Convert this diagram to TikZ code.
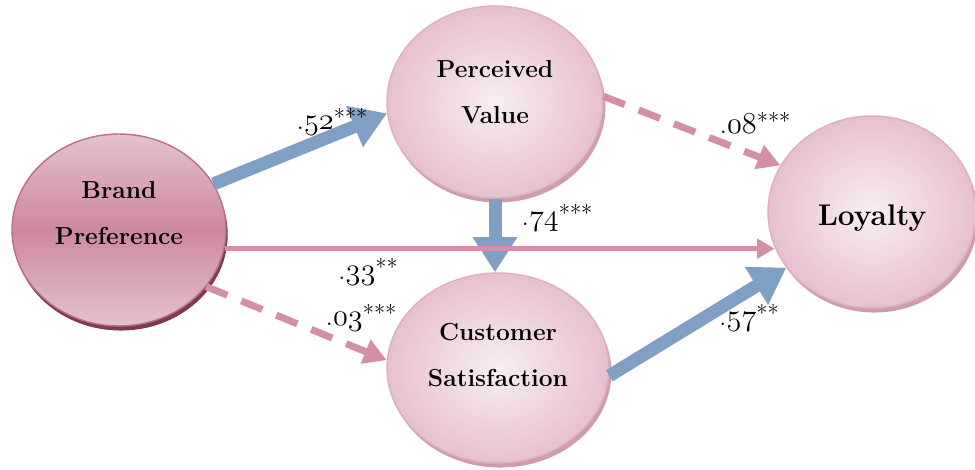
\documentclass[tikz,border=0pt]{standalone}
\usepackage{fontspec}
\usetikzlibrary{arrows.meta,shapes.geometric,shadows}
\definecolor{pathblue}{HTML}{7F9FC4}
\definecolor{pathpink}{HTML}{D48FA7}
\definecolor{bprefpink}{HTML}{CD889F}
\definecolor{bpreflight}{HTML}{E4C1CD}
\definecolor{bprefedge}{HTML}{B97088}
\definecolor{bprefrim}{HTML}{7E3A55}
\definecolor{blushlight}{HTML}{F8EEF2}
\definecolor{blushedge}{HTML}{E7C0CE}
\definecolor{blushline}{HTML}{DDAFBF}
\definecolor{blushrim}{HTML}{CD9CAF}
\newcommand{\osf}[1]{{\usefont{OML}{lmm}{m}{it}#1}}
\newcommand{\coefval}[2]{.\osf{#1}\raisebox{0.35ex}{\fontsize{13}{13}\selectfont #2}}

\begin{document}
\begin{tikzpicture}[x=0.02cm,y=-0.02cm,
  construct/.style={ellipse,inner sep=0pt,minimum width=4.32cm,minimum height=3.84cm,
              line width=0.8pt},
  blush/.style={construct,draw=blushline,inner color=blushlight,outer color=blushedge,
              drop shadow={shadow xshift=1.4pt,shadow yshift=-2.6pt,fill=blushrim,opacity=1}},
  cname/.style={font=\fontsize{14}{26}\selectfont\bfseries,align=center},
  coef/.style={font=\fontsize{17}{18}\selectfont},
  strong/.style={-{Triangle[length=20pt,width=24pt]},line width=7.4pt,pathblue},
  weak/.style={-{Triangle[length=10pt,width=11pt]},line width=3pt,pathpink},
  weakdash/.style={-{Triangle[length=13pt,width=14pt]},line width=4pt,pathpink,
              dash pattern=on 13pt off 8.5pt}]
  \clip (0,0) rectangle (975,470);
  % constructs
  \node[construct,minimum width=4.28cm,draw=bprefedge,top color=bpreflight,
        bottom color=bpreflight,middle color=bprefpink,
        drop shadow={shadow xshift=1pt,shadow yshift=-2.6pt,fill=bprefrim,opacity=1},
        label={[cname,yshift=0.34cm]center:Brand\\Preference}] (bp) at (119,230) {};
  \node[blush,label={[cname,yshift=0.2cm]center:Perceived\\Value}] (pv) at (495,102) {};
  \node[blush,minimum width=4.44cm,minimum height=3.8cm,
        label={[cname,yshift=0.26cm]center:Customer\\Satisfaction}] (cs) at (498,368) {};
  \node[blush,minimum width=4.16cm,
        label={[cname,font=\fontsize{17}{20}\selectfont\bfseries,yshift=-0.12cm]center:Loyalty}]
        (loy) at (872,212) {};
  % paths
  \draw[strong] (bp.26) -- (pv.186);
  \draw[strong] (pv.south) -- (pv.south |- cs.north);
  \draw[strong] (cs.-4) -- (loy.213);
  \draw[weak] (bp.-10) -- (bp.-10 -| loy.200);
  \draw[weakdash] (bp.-33) -- (cs.176);
  \draw[weakdash] (pv.3) -- (loy.153);
  % coefficients
  \node[coef] (c52) at (332,122) {\coefval{52}{***}};
  \node[coef] (c74) at (557,218) {\coefval{74}{***}};
  \node[coef] (c33) at (368,272) {\coefval{33}{**}};
  \node[coef] (c03) at (361,318) {\coefval{03}{***}};
  \node[coef] (c08) at (755,123) {\coefval{08}{***}};
  \node[coef] (c57) at (749,318) {\coefval{57}{**}};
\end{tikzpicture}
\end{document}
